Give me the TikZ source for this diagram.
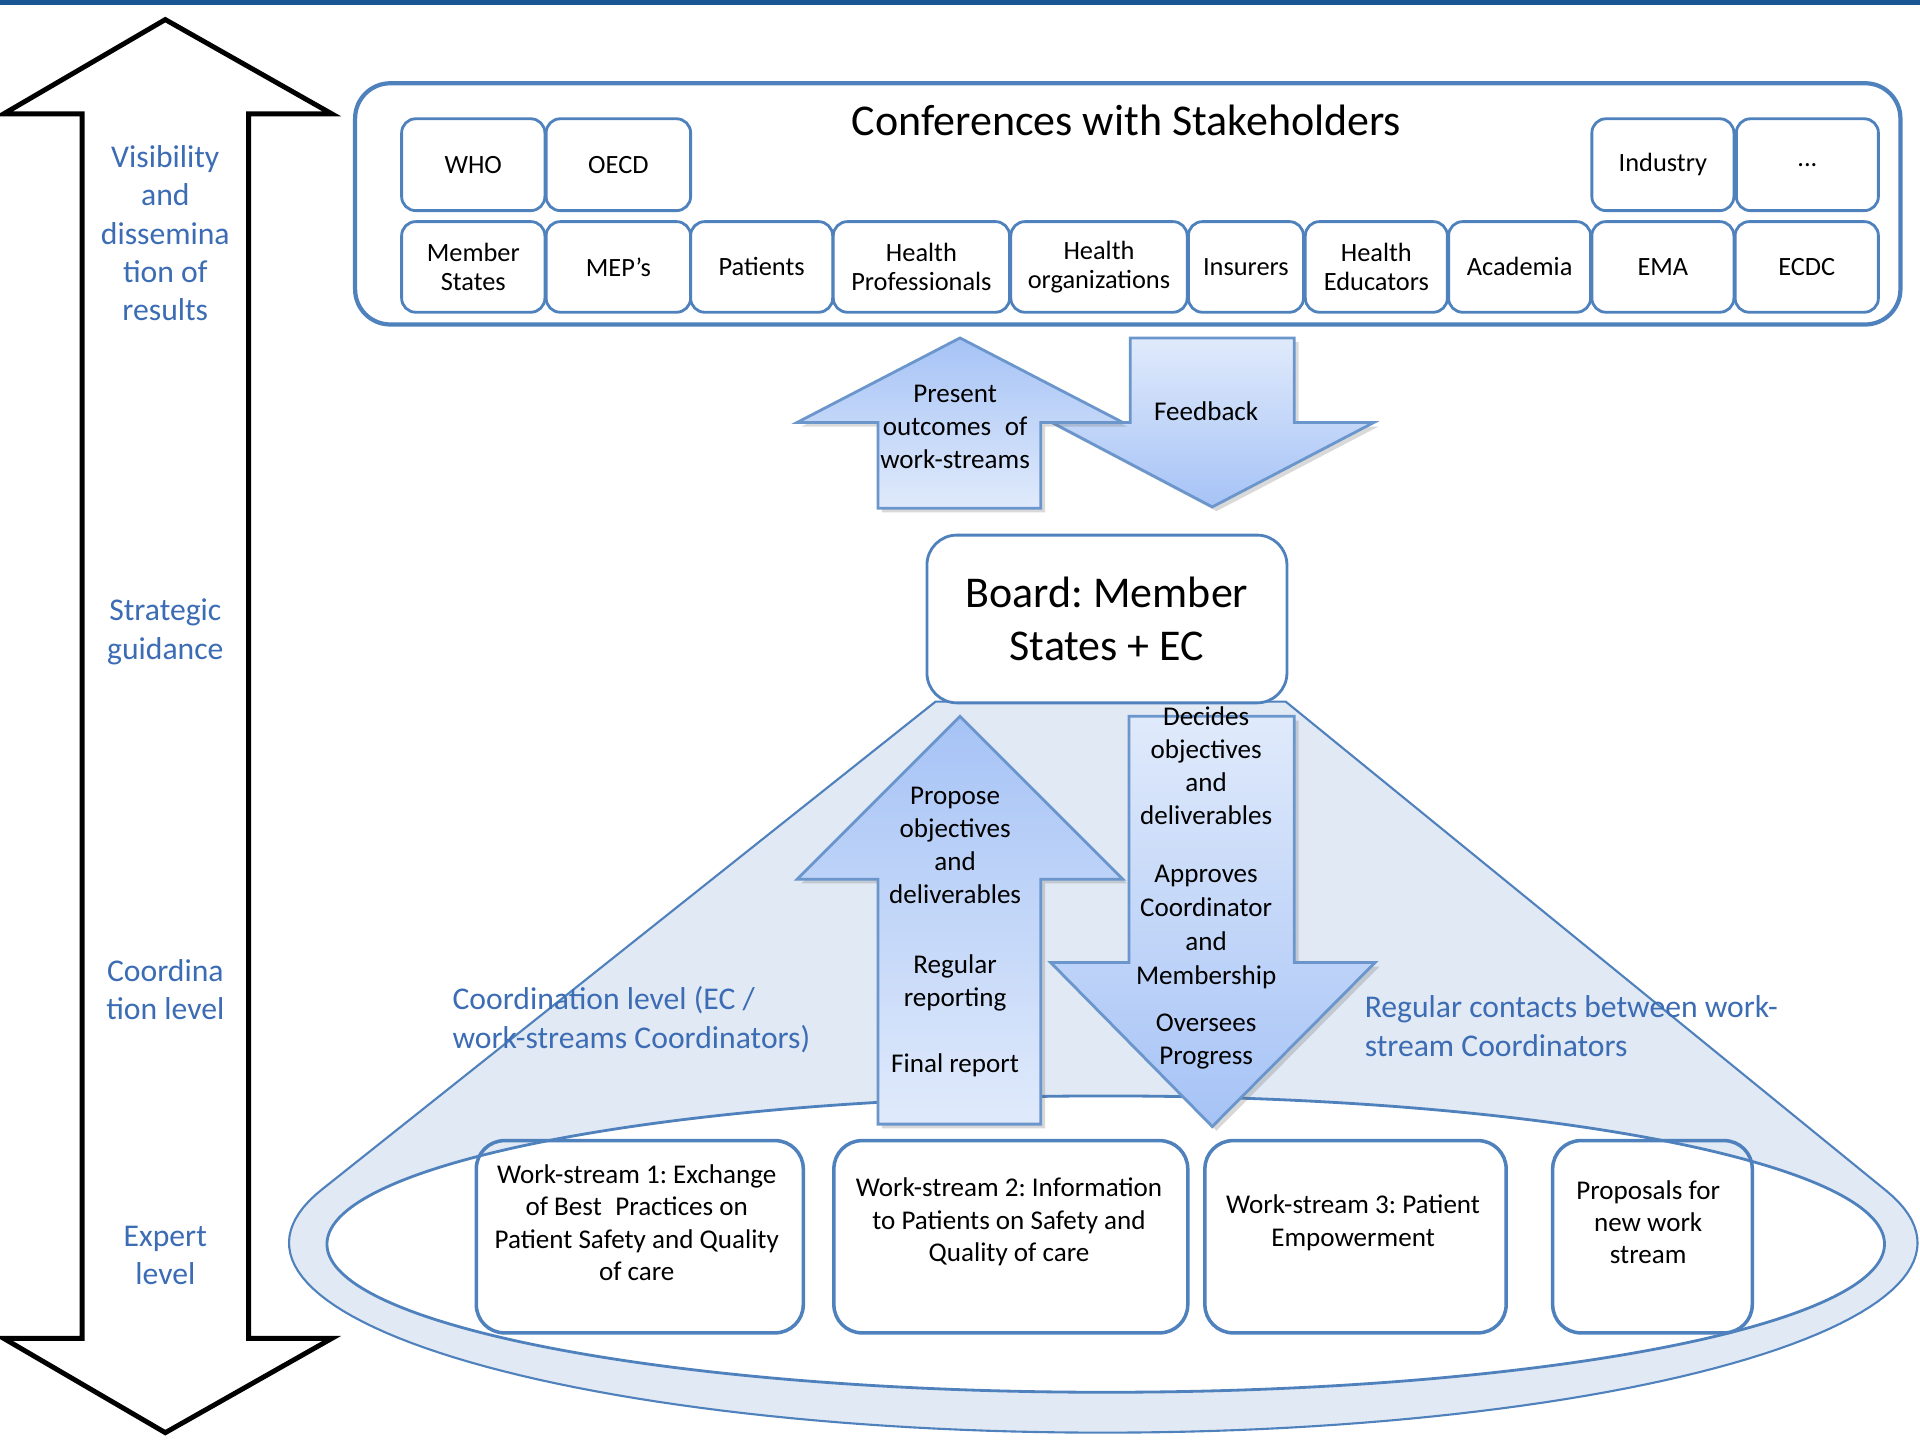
\documentclass[tikz,border=0pt]{standalone}
\usepackage{fontspec}
\setmainfont{Carlito}
\usetikzlibrary{shadows}
\frenchspacing
\newlength\pxu
\setlength\pxu{0.012245cm}
\definecolor{bblue}{HTML}{4F81BD}
\definecolor{lblue}{HTML}{3B6CB4}
\definecolor{barblue}{HTML}{1B5694}
\definecolor{ringfill}{HTML}{E1E9F4}
\definecolor{adark}{HTML}{A6C3F6}
\definecolor{alight}{HTML}{E0EAFB}
\definecolor{aline}{HTML}{6B96CC}
\begin{document}
\begin{tikzpicture}[x=0.012245cm,y=-0.012245cm,
  sbox/.style={draw=bblue, line width=0.8pt, rounded corners=4pt, fill=white, inner sep=0pt, align=center, font=\fontsize{7.5}{8.4}\selectfont},
  wsbox/.style={draw=bblue, line width=1pt, rounded corners=8pt, inner sep=0pt},
  wstext/.style={align=center, inner sep=0pt, font=\fontsize{7.7}{9.2}\selectfont},
  lbl/.style={text=lblue, align=center, inner sep=0pt, font=\fontsize{9}{10.9}\selectfont},
  lbll/.style={text=lblue, align=left, inner sep=0pt, font=\fontsize{9}{11.1}\selectfont},
  atext/.style={align=center, inner sep=0pt, font=\fontsize{7.7}{9.4}\selectfont},
  uparrow/.style={draw=aline, line width=0.8pt, top color=adark, bottom color=alight,
    drop shadow={shadow xshift=1.2pt, shadow yshift=-1.2pt, opacity=0.25, fill=black!60}},
  downarrow/.style={draw=aline, line width=0.8pt, top color=alight, bottom color=adark,
    drop shadow={shadow xshift=1.2pt, shadow yshift=-1.2pt, opacity=0.25, fill=black!60}},
  bigarrow/.style={draw=black, line width=1.4pt, fill=white, miter limit=10}
]
\useasboundingbox (0,0) rectangle (1568,1176);
% top bar
\fill[barblue] (0,0) rectangle (1568,4);

% left double arrow
\draw[bigarrow] (135,16) -- (271,93) -- (203,93) -- (203,1093) -- (271,1093) -- (135,1170)
  -- (3,1093) -- (67,1093) -- (67,93) -- (3,93) -- cycle;
\node[lbl] (vis) at (135,190.5) {Visibility\\and\\dissemina\\tion of\\results};
\node[lbl] (strat) at (135,516) {Strategic\\guidance};
\node[lbl] (coordl) at (135,808) {Coordina\\tion level};
\node[lbl] (expert) at (135,1025.5) {Expert\\level};

% conferences box
\node[draw=bblue, line width=1.2pt, rounded corners=10pt, minimum width=1262*\pxu, minimum height=197*\pxu, inner sep=0pt] (conf) at (921,166.5) {};
\node[inner sep=0pt, font=\fontsize{12.5}{15}\selectfont] (conftitle) at (920,98) {Conferences with Stakeholders};
% row 1
\node[sbox, minimum width=117*\pxu, minimum height=75*\pxu] (who) at (386.5,134.5) {WHO};
\node[sbox, minimum width=118*\pxu, minimum height=75*\pxu] (oecd) at (505,134.5) {OECD};
\node[sbox, minimum width=116*\pxu, minimum height=75*\pxu] (industry) at (1358,134.5) {Industry};
\node[sbox, minimum width=116*\pxu, minimum height=75*\pxu] (dots) at (1476,134.5) {...};
% row 2
\node[sbox, minimum width=117*\pxu, minimum height=74*\pxu] (ms) at (386.5,218) {Member\\States};
\node[sbox, minimum width=118*\pxu, minimum height=74*\pxu] (mep) at (505,218) {MEP's};
\node[sbox, minimum width=116*\pxu, minimum height=74*\pxu] (pat) at (622,218) {Patients};
\node[sbox, minimum width=144*\pxu, minimum height=74*\pxu] (hp) at (752.5,218) {Health\\Professionals};
\node[sbox, minimum width=144*\pxu, minimum height=74*\pxu] (ho) at (897.5,218) {Health\\organizations};
\node[sbox, minimum width=94*\pxu, minimum height=74*\pxu] (ins) at (1017.5,218) {Insurers};
\node[sbox, minimum width=116*\pxu, minimum height=74*\pxu] (he) at (1124,218) {Health\\Educators};
\node[sbox, minimum width=116*\pxu, minimum height=74*\pxu] (acad) at (1241,218) {Academia};
\node[sbox, minimum width=116*\pxu, minimum height=74*\pxu] (ema) at (1358,218) {EMA};
\node[sbox, minimum width=117*\pxu, minimum height=74*\pxu] (ecdc) at (1475.5,218) {ECDC};

% feedback / present arrows
\path[downarrow] (923,276) -- (1057,276) -- (1057,345) -- (1122,345) -- (990,414) -- (859,345) -- (923,345) -- cycle;
\node[atext] (feedback) at (985,336) {Feedback};
\path[uparrow] (784,276) -- (917,345) -- (850,345) -- (850,415) -- (717,415) -- (717,345) -- (651,345) -- cycle;
\node[atext] (present) at (780,349) {Present\\outcomes\enspace of\\work-streams};

% coordination hull
\path[fill=ringfill, draw=bblue, line width=0.6pt] (1050,573) -- plot[domain=-15.9:196.4, samples=120] ({901+665*cos(\x)},{1015+155*sin(\x)}) -- (764,573) -- cycle;
\draw[bblue, line width=0.8pt, fill=white] (903,1016) ellipse [x radius=636, y radius=121];

% propose / decides arrows
\path[uparrow] (784,585) -- (917,718) -- (850,718) -- (850,918) -- (717,918) -- (717,718) -- (651,718) -- cycle;
\node[atext] (propose) at (780,690.5) {Propose\\objectives\\and\\deliverables};
\node[atext] (regrep) at (780,802.5) {Regular\\reporting};
\node[atext] (final) at (780,870) {Final report};
\path[downarrow] (922,585) -- (1057,585) -- (1057,786) -- (1123,786) -- (990,920) -- (858,786) -- (922,786) -- cycle;
\node[atext] (decides) at (985,625.5) {Decides\\objectives\\and\\deliverables};
\node[atext, font=\fontsize{7.7}{9.6}\selectfont] (approves) at (985,757) {Approves\\Coordinator\\and\\Membership};
\node[atext] (oversees) at (985,850.5) {Oversees\\Progress};

% board
\node[draw=bblue, line width=0.8pt, fill=white, rounded corners=8.5pt, minimum width=294*\pxu, minimum height=137*\pxu, inner sep=0pt, align=center, font=\fontsize{12.5}{15}\selectfont] (board) at (904,505.5) {Board: Member\\States + EC};

% labels
\node[lbll, anchor=west] (coordlab) at (369,833) {Coordination level (EC /\\work-streams Coordinators)};
\node[lbll, anchor=west] (contacts) at (1114,838) {Regular contacts between work-\\stream Coordinators};

% work-stream boxes
\node[wsbox, minimum width=267*\pxu, minimum height=157*\pxu] (ws1) at (522.5,1010) {};
\node[wstext] (ws1t) at (520,998.5) {Work-stream 1: Exchange\\of Best\enspace Practices on\\Patient Safety and Quality\\of care};
\node[wsbox, minimum width=289*\pxu, minimum height=157*\pxu] (ws2) at (825.5,1010) {};
\node[wstext] (ws2t) at (824,998) {Work-stream 2: Information\\to Patients on Safety and\\Quality of care};
\node[wsbox, minimum width=246*\pxu, minimum height=157*\pxu] (ws3) at (1107,1010) {};
\node[wstext] (ws3t) at (1105,998.5) {Work-stream 3: Patient\\Empowerment};
\node[wsbox, minimum width=163*\pxu, minimum height=157*\pxu] (ws4) at (1349.5,1010) {};
\node[wstext] (ws4t) at (1346,998) {Proposals for\\new work\\stream};
\end{tikzpicture}
\end{document}
